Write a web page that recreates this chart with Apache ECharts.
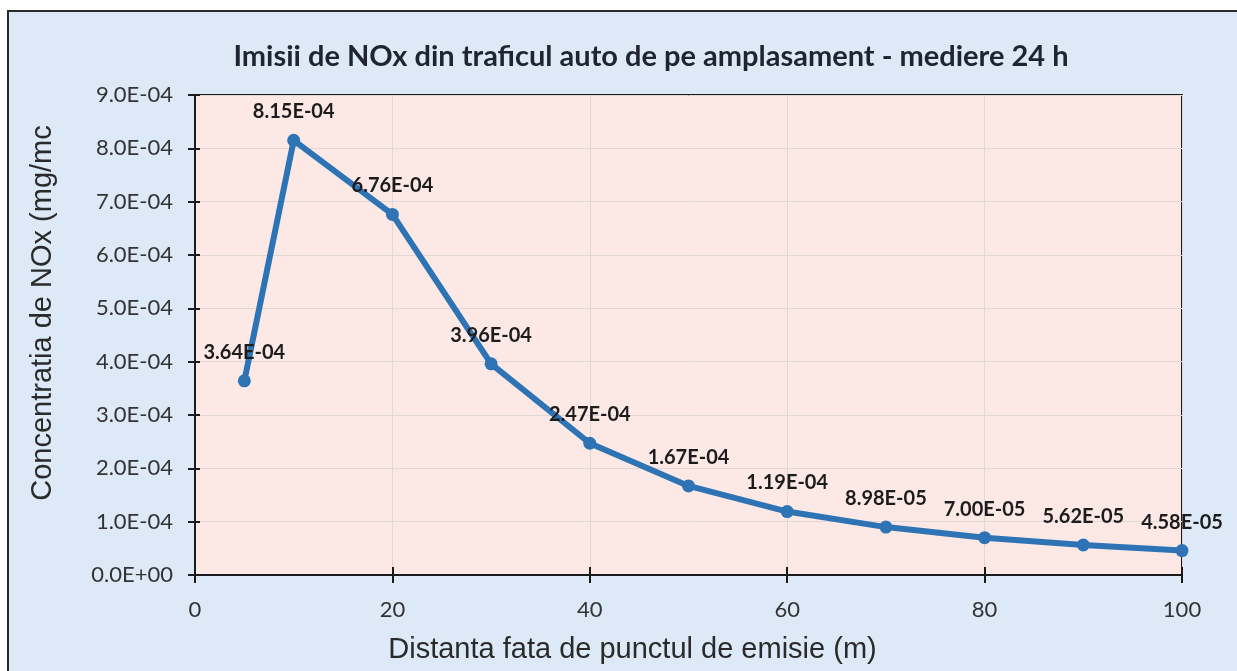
<!DOCTYPE html>
<html>
<head>
<meta charset="utf-8">
<script src="https://cdn.jsdelivr.net/npm/echarts@6/dist/echarts.min.js"></script>
<style>
  html, body { margin: 0; padding: 0; background: #ffffff; overflow: hidden; width: 1237px; height: 671px; }
  #chart { position: absolute; left: 7px; top: 10px; width: 1240px; height: 670px;
           border: 2px solid #2a2a2a; background: #dde9f7; }
</style>
</head>
<body>
<div id="chart"></div>
<script>
// date grafic
const distante = [5, 10, 20, 30, 40, 50, 60, 70, 80, 90, 100];
const concentratii = [3.64e-4, 8.15e-4, 6.76e-4, 3.96e-4, 2.47e-4, 1.67e-4, 1.19e-4, 8.98e-5, 7.00e-5, 5.62e-5, 4.58e-5];
const xTicks = [0, 20, 40, 60, 80, 100];

// format stil Excel: 8.15E-04
function formatExp(v, zecimale) {
  const parti = Number(v).toExponential(zecimale).split('e');
  const exp = parseInt(parti[1], 10);
  const semn = exp < 0 ? '-' : '+';
  return parti[0] + 'E' + semn + String(Math.abs(exp)).padStart(2, '0');
}

const contenedor = document.getElementById('chart');
const grafic = echarts.init(contenedor, null, { width: 1228, height: 659 });

const fontTicks = { fontFamily: 'Lato', fontSize: 22, color: '#333333' };

const opciones = {
  animation: false,
  title: {
    text: 'Imisii de NOx din traficul auto de pe amplasament - mediere 24 h',
    left: 637,
    top: 25,
    textAlign: 'center',
    textStyle: { fontFamily: 'Lato', fontWeight: 'bold', fontSize: 29, color: '#1e2430' }
  },
  grid: {
    left: 186, top: 83, width: 987, height: 480,
    show: true, backgroundColor: '#fce9e6', borderColor: '#1a1a1a', borderWidth: 2
  },
  xAxis: [
    {
      type: 'value', min: 0, max: 100, interval: 20,
      name: 'Distanta fata de punctul de emisie (m)',
      nameLocation: 'middle', nameGap: 60,
      nameTextStyle: { fontFamily: 'Liberation Sans', fontSize: 29, color: '#2a2a2a', padding: [0, 112, 0, 0] },
      axisLine: { show: true, lineStyle: { color: '#1a1a1a', width: 2 } },
      axisTick: { show: true, length: 8, lineStyle: { color: '#1a1a1a', width: 2 } },
      axisLabel: Object.assign({ margin: 24, formatter: v => xTicks.includes(v) ? String(v) : '' }, fontTicks),
      splitLine: { show: true, lineStyle: { color: '#e0d8d6', width: 1 } }
    },
    {
      type: 'value', min: 0, max: 100, interval: 20, position: 'bottom', offset: 0,
      axisLine: { show: false }, axisLabel: { show: false }, splitLine: { show: false },
      axisTick: { show: true, inside: true, length: 8, lineStyle: { color: '#1a1a1a', width: 2 } }
    }
  ],
  yAxis: [
    {
      type: 'value', min: 0, max: 9e-4, interval: 1e-4,
      name: 'Concentratia de NOx (mg/mc',
      nameLocation: 'middle', nameGap: 138,
      nameTextStyle: { fontFamily: 'Liberation Sans', fontSize: 29, color: '#2a2a2a', padding: [0, 0, 0, 44] },
      axisLine: { show: true, lineStyle: { color: '#1a1a1a', width: 2 } },
      axisTick: { show: true, length: 7, lineStyle: { color: '#1a1a1a', width: 2 } },
      axisLabel: Object.assign({ margin: 22, formatter: v => formatExp(v, 1) }, fontTicks),
      splitLine: { show: true, lineStyle: { color: '#e0d8d6', width: 1 } }
    },
    {
      type: 'value', min: 0, max: 9e-4, interval: 1e-4, position: 'left', offset: 0,
      axisLine: { show: false }, axisLabel: { show: false }, splitLine: { show: false },
      axisTick: { show: true, inside: true, length: 5, lineStyle: { color: '#1a1a1a', width: 2 } }
    }
  ],
  series: [
    {
      type: 'line',
      data: distante.map((d, i) => [d, concentratii[i]]),
      symbol: 'circle', symbolSize: 13,
      lineStyle: { color: '#2e74b5', width: 6 },
      itemStyle: { color: '#2e74b5' },
      label: {
        show: true, position: 'top', distance: 12,
        fontFamily: 'Lato', fontWeight: 'bold', fontSize: 20, color: '#1c1c1c',
        formatter: p => formatExp(p.value[1], 2)
      },
      z: 5
    }
  ]
};

grafic.setOption(opciones);
</script>
</body>
</html>
